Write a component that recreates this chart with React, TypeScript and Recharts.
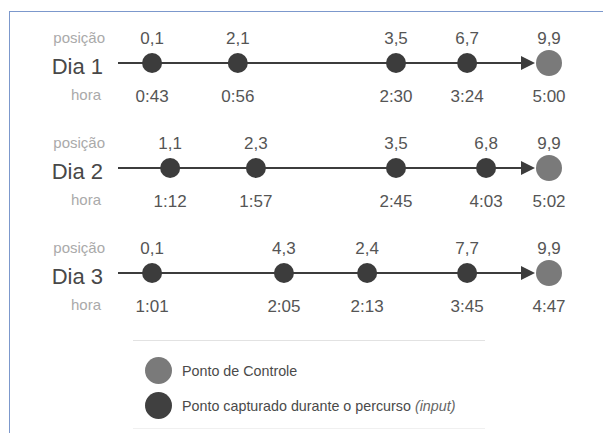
import React from "react";
import {
  ScatterChart,
  Scatter,
  XAxis,
  YAxis,
  ReferenceLine,
} from "recharts";

// linha do tempo de cada dia (posição esquemática na trilha, 0 = início, 100 = ponto de controle)
const days = [1, 2, 3];
const dayLabels = ["Dia 1", "Dia 2", "Dia 3"];

const trackDia1 = [7.9, 27.8, 64.5, 81.0, 100];
const posicaoDia1 = ["0,1", "2,1", "3,5", "6,7", "9,9"];
const horaDia1 = ["0:43", "0:56", "2:30", "3:24", "5:00"];

const trackDia2 = [12.1, 32.0, 64.5, 85.4, 100];
const posicaoDia2 = ["1,1", "2,3", "3,5", "6,8", "9,9"];
const horaDia2 = ["1:12", "1:57", "2:45", "4:03", "5:02"];

const trackDia3 = [7.9, 38.5, 57.8, 81.0, 100];
const posicaoDia3 = ["0,1", "4,3", "2,4", "7,7", "9,9"];
const horaDia3 = ["1:01", "2:05", "2:13", "3:45", "4:47"];

const kinds = ["input", "input", "input", "input", "controle"];

const legendItems = ["Ponto de Controle", "Ponto capturado durante o percurso"];

const DARK = "#3c3c3c";
const CONTROL = "#7a7a7a";
const FONT = "'Liberation Sans', Arial, sans-serif";

const buildRow = (day: number, track: number[], posicao: string[], hora: string[]) =>
  track.map((t, i) => ({ track: t, day, posicao: posicao[i], hora: hora[i], kind: kinds[i] }));

const rows = [
  buildRow(1, trackDia1, posicaoDia1, horaDia1),
  buildRow(2, trackDia2, posicaoDia2, horaDia2),
  buildRow(3, trackDia3, posicaoDia3, horaDia3),
];

const PointShape = (props: any) => {
  const { cx, cy, payload } = props;
  const control = payload.kind === "controle";
  return (
    <g>
      <circle cx={cx} cy={cy} r={control ? 13 : 10} fill={control ? CONTROL : DARK} />
      <text x={cx} y={cy - 19} textAnchor="middle" fontSize={17} fill="#555" fontFamily={FONT}>
        {payload.posicao}
      </text>
      <text x={cx} y={cy + 39} textAnchor="middle" fontSize={17} fill="#555" fontFamily={FONT}>
        {payload.hora}
      </text>
    </g>
  );
};

const ArrowLine = (props: any) => {
  const { x1, y1, x2 } = props;
  return (
    <g>
      <line x1={x1} y1={y1} x2={x2 - 27} y2={y1} stroke={DARK} strokeWidth={2} />
      <polygon
        points={`${x2 - 28},${y1 - 7} ${x2 - 14},${y1} ${x2 - 28},${y1 + 7}`}
        fill={DARK}
      />
    </g>
  );
};

const DayTick = (props: any) => {
  const { x, y, payload } = props;
  const label = dayLabels[days.indexOf(payload.value)];
  return (
    <g fontFamily={FONT}>
      <text x={x - 13} y={y - 20} textAnchor="end" fontSize={15} fill="#aaa">
        posição
      </text>
      <text x={x - 15} y={y + 11} textAnchor="end" fontSize={22} fill="#484848">
        {label}
      </text>
      <text x={x - 17} y={y + 37} textAnchor="end" fontSize={15} fill="#aaa">
        hora
      </text>
    </g>
  );
};

export default function App() {
  return (
    <div style={styles.page}>
      <div style={styles.frame} />
      <ScatterChart
        width={603}
        height={433}
        margin={{ top: 63, right: 54, bottom: 160, left: 0 }}
        style={{ position: "absolute", left: 0, top: 0 }}
      >
        <XAxis type="number" dataKey="track" domain={[0, 100]} hide />
        <YAxis
          type="number"
          dataKey="day"
          domain={[1, 3]}
          ticks={days}
          reversed
          width={118}
          axisLine={false}
          tickLine={false}
          tickSize={0}
          tickMargin={0}
          tick={<DayTick />}
        />
        {days.map((d) => (
          <ReferenceLine
            key={d}
            segment={[
              { x: 0, y: d },
              { x: 100, y: d },
            ]}
            shape={<ArrowLine />}
          />
        ))}
        {rows.map((row, i) => (
          <Scatter
            key={i}
            data={row}
            shape={<PointShape />}
            isAnimationActive={false}
          />
        ))}
      </ScatterChart>
      <div style={styles.legend}>
        {legendItems.map((item, i) => (
          <div key={item} style={styles.legendRow}>
            <span
              style={{
                ...styles.dot,
                background: i === 0 ? CONTROL : "#404040",
              }}
            />
            <span>
              {item}
              {i === 1 && <i style={{ color: "#666" }}> (input)</i>}
            </span>
          </div>
        ))}
      </div>
    </div>
  );
}

const styles: Record<string, React.CSSProperties> = {
  page: {
    position: "absolute",
    left: 0,
    top: 0,
    width: 603,
    height: 433,
    background: "#fff",
    overflow: "hidden",
    fontFamily: FONT,
  },
  frame: {
    position: "absolute",
    left: 9,
    top: 11,
    width: 600,
    height: 430,
    borderTop: "1.5px solid #7c98cc",
    borderLeft: "1.5px solid #7c98cc",
  },
  legend: {
    position: "absolute",
    left: 133,
    top: 340,
    width: 352,
    height: 89,
    borderTop: "1px solid #e2e2e2",
    borderBottom: "1px solid #f0f0f0",
    boxSizing: "border-box",
    paddingTop: 12,
  },
  legendRow: {
    display: "flex",
    alignItems: "center",
    height: 35,
    fontSize: 14.3,
    color: "#4a4a4a",
  },
  dot: {
    display: "inline-block",
    width: 27,
    height: 27,
    borderRadius: "50%",
    marginLeft: 12,
    marginRight: 10,
  },
};
